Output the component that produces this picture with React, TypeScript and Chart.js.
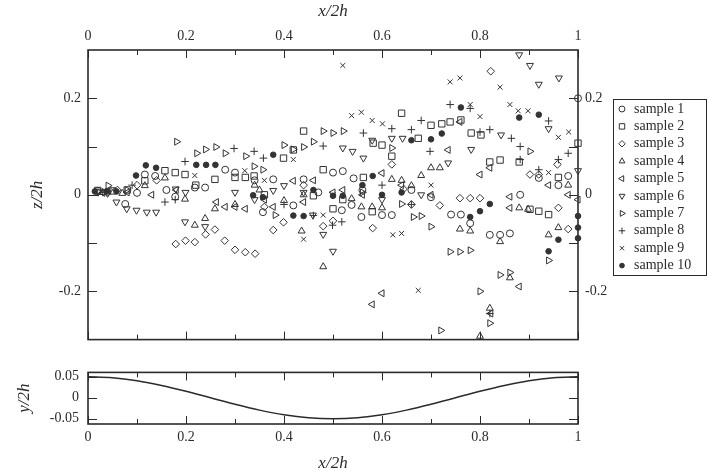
import React, { useEffect, useRef } from 'react';
import { Chart, registerables } from 'chart.js';
import * as helpers from 'chart.js/helpers';

Chart.register(...registerables);

// ---------- tick values ----------
const X_TICKS = [0, 0.2, 0.4, 0.6, 0.8, 1];
const X_MINOR_TICKS = [0.1, 0.3, 0.5, 0.7, 0.9];
const Z_TICKS = [-0.2, 0, 0.2];
const Z_MINOR_TICKS = [-0.1, 0.1];
const Y_TICKS = [-0.05, 0, 0.05];

// ---------- series ----------
const SAMPLE_NAMES = ['sample 1', 'sample 2', 'sample 3', 'sample 4', 'sample 5', 'sample 6', 'sample 7', 'sample 8', 'sample 9', 'sample 10'];

const SAMPLE_1 = [[0.02, 0.008], [0.04, 0.006], [0.076, -0.019], [0.1, 0.004], [0.116, 0.042], [0.137, 0.039], [0.16, 0.01], [0.178, -0.004], [0.218, 0.015], [0.239, 0.015], [0.28, 0.052], [0.3, 0.046], [0.34, 0.03], [0.357, -0.036], [0.378, 0.032], [0.419, -0.022], [0.44, 0.032], [0.47, 0.005], [0.5, 0.046], [0.52, 0.049], [0.542, 0.034], [0.518, -0.032], [0.538, -0.021], [0.558, -0.046], [0.56, 0.01], [0.6, -0.042], [0.62, -0.042], [0.66, 0.01], [0.7, -0.005], [0.741, -0.041], [0.761, -0.041], [0.78, -0.059], [0.82, -0.083], [0.841, -0.083], [0.861, -0.08], [0.882, 0.0], [0.92, 0.035], [0.96, 0.02], [0.98, 0.039], [1.0, 0.2]];
const SAMPLE_2 = [[0.02, 0.009], [0.05, 0.008], [0.08, 0.01], [0.116, 0.029], [0.157, 0.05], [0.178, 0.046], [0.198, 0.042], [0.22, 0.02], [0.259, 0.032], [0.3, 0.036], [0.321, 0.036], [0.339, 0.039], [0.36, 0.0], [0.399, 0.076], [0.419, 0.093], [0.44, 0.132], [0.46, -0.002], [0.48, 0.052], [0.5, -0.029], [0.52, -0.01], [0.562, 0.036], [0.58, -0.035], [0.582, 0.107], [0.6, 0.103], [0.62, 0.08], [0.64, 0.169], [0.674, 0.117], [0.7, 0.144], [0.722, 0.147], [0.739, 0.151], [0.761, 0.155], [0.782, 0.128], [0.802, 0.124], [0.82, 0.068], [0.841, 0.072], [0.88, 0.068], [0.902, -0.03], [0.92, -0.034], [0.94, -0.041], [0.96, 0.036], [1.0, 0.107]];
const SAMPLE_3 = [[0.02, 0.005], [0.06, 0.01], [0.1, 0.02], [0.14, 0.03], [0.179, -0.102], [0.199, -0.095], [0.218, -0.098], [0.24, -0.082], [0.259, -0.072], [0.279, -0.095], [0.3, -0.114], [0.321, -0.119], [0.341, -0.122], [0.36, -0.025], [0.378, -0.073], [0.399, -0.057], [0.44, 0.02], [0.48, -0.065], [0.5, -0.054], [0.581, -0.069], [0.62, 0.063], [0.644, 0.012], [0.66, -0.02], [0.718, -0.022], [0.759, -0.007], [0.78, -0.007], [0.8, -0.007], [0.822, 0.256], [0.902, 0.042], [0.92, 0.042], [0.958, 0.063], [0.96, -0.027], [0.98, -0.071]];
const SAMPLE_4 = [[0.03, 0.005], [0.07, 0.003], [0.116, 0.019], [0.157, 0.035], [0.198, -0.009], [0.218, -0.063], [0.239, -0.049], [0.259, -0.029], [0.3, -0.02], [0.34, 0.02], [0.35, 0.01], [0.4, -0.012], [0.436, -0.075], [0.44, 0.0], [0.48, -0.149], [0.538, -0.008], [0.558, -0.025], [0.58, -0.025], [0.6, -0.027], [0.62, 0.032], [0.64, 0.03], [0.66, 0.019], [0.68, 0.04], [0.7, 0.056], [0.718, 0.056], [0.759, -0.071], [0.78, -0.075], [0.8, -0.293], [0.82, -0.235], [0.841, -0.097], [0.861, -0.172], [0.88, -0.027], [0.898, -0.03], [0.94, -0.083], [0.96, -0.068], [0.98, 0.02]];
const SAMPLE_5 = [[0.03, 0.004], [0.08, 0.005], [0.13, 0.0], [0.18, 0.01], [0.262, -0.015], [0.28, -0.025], [0.3, -0.025], [0.321, -0.029], [0.36, -0.01], [0.378, -0.025], [0.419, 0.029], [0.44, -0.015], [0.46, 0.03], [0.5, 0.005], [0.52, 0.01], [0.56, 0.0], [0.58, -0.227], [0.6, -0.204], [0.6, 0.045], [0.64, 0.02], [0.7, 0.0], [0.735, 0.093], [0.759, 0.151], [0.8, 0.042], [0.82, 0.056], [0.822, -0.246], [0.861, -0.004], [0.861, -0.027], [0.88, -0.19], [0.94, 0.02], [0.98, 0.0], [1.0, -0.01]];
const SAMPLE_6 = [[0.02, 0.006], [0.04, 0.003], [0.058, -0.015], [0.079, -0.029], [0.099, -0.032], [0.12, -0.036], [0.139, -0.036], [0.179, 0.012], [0.199, 0.005], [0.198, -0.056], [0.239, -0.066], [0.3, 0.005], [0.34, -0.01], [0.378, 0.009], [0.4, 0.019], [0.44, 0.005], [0.459, -0.042], [0.48, -0.082], [0.5, -0.117], [0.52, 0.097], [0.54, 0.09], [0.562, 0.076], [0.58, 0.113], [0.6, -0.01], [0.62, 0.117], [0.642, 0.117], [0.68, 0.0], [0.735, 0.066], [0.782, 0.094], [0.843, 0.124], [0.88, 0.29], [0.902, 0.268], [0.92, 0.229], [0.94, 0.137], [0.961, 0.242], [1.0, 0.05]];
const SAMPLE_7 = [[0.041, 0.019], [0.08, 0.01], [0.181, 0.11], [0.222, 0.086], [0.24, 0.094], [0.261, 0.099], [0.28, 0.086], [0.322, 0.08], [0.339, 0.059], [0.357, 0.052], [0.382, -0.042], [0.4, 0.103], [0.419, 0.094], [0.44, 0.099], [0.46, 0.11], [0.48, 0.132], [0.5, 0.128], [0.521, 0.132], [0.56, 0.005], [0.62, 0.097], [0.64, -0.019], [0.664, -0.046], [0.68, -0.044], [0.7, -0.066], [0.72, -0.281], [0.739, -0.118], [0.759, -0.118], [0.78, -0.115], [0.8, -0.2], [0.82, -0.266], [0.841, -0.166], [0.861, -0.161], [0.902, 0.09], [0.94, -0.136]];
const SAMPLE_8 = [[0.03, 0.005], [0.09, 0.02], [0.157, -0.015], [0.178, -0.01], [0.198, 0.069], [0.298, 0.096], [0.339, 0.09], [0.358, 0.076], [0.4, -0.02], [0.46, -0.043], [0.48, 0.101], [0.499, -0.063], [0.518, -0.056], [0.562, 0.128], [0.6, 0.02], [0.62, 0.137], [0.66, 0.135], [0.66, -0.02], [0.68, 0.154], [0.698, 0.09], [0.739, 0.187], [0.78, 0.179], [0.8, 0.13], [0.82, 0.135], [0.82, -0.246], [0.864, 0.117], [0.882, 0.1], [0.882, 0.073], [0.92, 0.052], [0.94, 0.153], [0.96, 0.073], [0.98, 0.086]];
const SAMPLE_9 = [[0.05, 0.01], [0.218, 0.04], [0.32, 0.05], [0.36, 0.03], [0.419, 0.073], [0.44, -0.092], [0.48, -0.042], [0.5, 0.0], [0.52, 0.268], [0.538, 0.164], [0.558, 0.171], [0.58, 0.154], [0.601, 0.147], [0.622, -0.083], [0.64, -0.08], [0.674, -0.198], [0.7, 0.02], [0.739, 0.234], [0.759, 0.242], [0.78, 0.187], [0.8, 0.162], [0.841, 0.223], [0.861, 0.187], [0.878, 0.174], [0.898, 0.174], [0.94, 0.046], [0.96, 0.119], [0.981, 0.13]];
const SAMPLE_10 = [[0.014, 0.007], [0.038, 0.007], [0.058, 0.007], [0.098, 0.04], [0.118, 0.061], [0.139, 0.056], [0.221, 0.062], [0.241, 0.062], [0.26, 0.062], [0.337, -0.001], [0.357, -0.005], [0.378, 0.083], [0.419, -0.043], [0.44, -0.044], [0.46, 0.01], [0.5, -0.002], [0.52, -0.002], [0.56, 0.02], [0.581, 0.039], [0.6, 0.0], [0.64, 0.005], [0.66, 0.113], [0.7, 0.115], [0.722, 0.127], [0.761, 0.181], [0.78, -0.046], [0.8, -0.034], [0.82, -0.019], [0.88, 0.16], [0.92, 0.166], [0.94, -0.117], [0.96, -0.093], [1.0, -0.044], [1.0, -0.068], [1.0, -0.09]];

const SAMPLES = [SAMPLE_1, SAMPLE_2, SAMPLE_3, SAMPLE_4, SAMPLE_5, SAMPLE_6, SAMPLE_7, SAMPLE_8, SAMPLE_9, SAMPLE_10];

// wall shape y/2h vs x/2h
const WALL_X = [0, 0.05, 0.1, 0.15, 0.2, 0.25, 0.3, 0.35, 0.4, 0.45, 0.5, 0.55, 0.6, 0.65, 0.7, 0.75, 0.8, 0.85, 0.9, 0.95, 1];
const WALL_Y = [0.05, 0.0476, 0.0405, 0.0294, 0.0155, 0.0, -0.0155, -0.0294, -0.0405, -0.0476, -0.05, -0.0476, -0.0405, -0.0294, -0.0155, 0.0, 0.0155, 0.0294, 0.0405, 0.0476, 0.05];

// ---------- styles ----------
const INK = '#2b2b2b';
const MARK = '#333333';
const FONT = '"Liberation Serif", "Times New Roman", serif';
const MARKERS = [
  { style: 'circle', rot: 0, r: 3.5, fill: false },
  { style: 'rect', rot: 0, r: 4.5, fill: false },
  { style: 'rectRot', rot: 0, r: 3.8, fill: false },
  { style: 'triangle', rot: 0, r: 4, fill: false },
  { style: 'triangle', rot: -90, r: 4, fill: false },
  { style: 'triangle', rot: 180, r: 4, fill: false },
  { style: 'triangle', rot: 90, r: 4, fill: false },
  { style: 'cross', rot: 0, r: 3.8, fill: false },
  { style: 'crossRot', rot: 0, r: 3.5, fill: false },
  { style: 'circle', rot: 0, r: 2.8, fill: true },
];

const tickFont = { family: FONT, size: 14 };
const titleFont = { family: FONT, size: 17, style: 'italic' as const, lineHeight: 1 };

const frameTicks = {
  id: 'frameTicks',
  beforeDatasetsDraw(chart: any, _args: any, opts: any) {
    const { ctx, chartArea } = chart;
    const { left, right, top, bottom } = chartArea;
    const xs = chart.scales.x;
    const ys = chart.scales.y;
    ctx.save();
    ctx.strokeStyle = INK;
    ctx.lineWidth = 1;
    ctx.beginPath();
    const vx = (v: number, len: number) => {
      const p = Math.round(xs.getPixelForValue(v)) + 0.5;
      ctx.moveTo(p, top); ctx.lineTo(p, top + len);
      ctx.moveTo(p, bottom); ctx.lineTo(p, bottom - len);
    };
    const hy = (v: number, len: number) => {
      const p = Math.round(ys.getPixelForValue(v)) + 0.5;
      ctx.moveTo(left, p); ctx.lineTo(left + len, p);
      ctx.moveTo(right, p); ctx.lineTo(right - len, p);
    };
    opts.xMajor.forEach((v: number) => vx(v, 8));
    opts.xMinor.forEach((v: number) => vx(v, 5));
    opts.yMajor.forEach((v: number) => hy(v, 9));
    opts.yMinor.forEach((v: number) => hy(v, 9));
    ctx.stroke();
    ctx.lineWidth = 1.6;
    ctx.strokeRect(left, top, right - left, bottom - top);
    ctx.restore();
  },
};

const boxLegend = {
  id: 'boxLegend',
  afterDraw(chart: any, _args: any, opts: any) {
    if (!opts || !opts.show) return;
    const ctx = chart.ctx;
    ctx.save();
    ctx.strokeStyle = INK;
    ctx.lineWidth = 1;
    ctx.strokeRect(opts.left + 0.5, opts.top + 0.5, opts.width, opts.height);
    ctx.font = `14px ${FONT}`;
    ctx.textBaseline = 'middle';
    chart.data.datasets.forEach((ds: any, i: number) => {
      const y = opts.top + opts.firstRow + i * opts.rowGap;
      const m = MARKERS[i];
      ctx.strokeStyle = MARK;
      ctx.fillStyle = m.fill ? MARK : 'rgba(0,0,0,0)';
      ctx.lineWidth = 1;
      helpers.drawPoint(ctx, { pointStyle: m.style, rotation: m.rot, radius: m.r * 0.85, borderWidth: 1 }, opts.left + opts.markerX, y);
      ctx.fillStyle = INK;
      ctx.fillText(ds.label, opts.left + opts.textX, y);
    });
    ctx.restore();
  },
};

function MainChart() {
  const ref = useRef<HTMLCanvasElement>(null);
  useEffect(() => {
    const datasets = SAMPLES.map((s, i) => ({
      label: SAMPLE_NAMES[i],
      data: s.map(([x, y]) => ({ x, y })),
      pointStyle: MARKERS[i].style,
      pointRotation: MARKERS[i].rot,
      pointRadius: MARKERS[i].r,
      pointBorderWidth: 1,
      pointBorderColor: MARK,
      pointBackgroundColor: MARKERS[i].fill ? MARK : 'rgba(0,0,0,0)',
      showLine: false,
      clip: false,
      xAxisID: 'x',
      yAxisID: 'y',
    }));
    const chart = new Chart(ref.current as HTMLCanvasElement, {
      type: 'scatter',
      data: { datasets },
      options: {
        animation: false,
        responsive: false,
        devicePixelRatio: 1,
        layout: { padding: { left: 0, top: 0, right: 89, bottom: 10 } },
        plugins: {
          legend: { display: false },
          tooltip: { enabled: false },
          frameTicks: { xMajor: X_TICKS, xMinor: X_MINOR_TICKS, yMajor: Z_TICKS, yMinor: Z_MINOR_TICKS },
          boxLegend: { show: true, left: 613, top: 99, width: 93, height: 176, firstRow: 10, rowGap: 17.4, markerX: 9, textX: 21 },
        } as any,
        scales: {
          x: {
            type: 'linear', position: 'top', min: 0, max: 1,
            grid: { display: false, drawTicks: false },
            border: { display: false },
            afterBuildTicks: (s: any) => { s.ticks = X_TICKS.map((v) => ({ value: v })); },
            afterFit: (s: any) => { s.height = 50; },
            ticks: { font: tickFont, color: INK, padding: 5, maxRotation: 0, autoSkip: false, callback: (v: any) => String(Math.round(Number(v) * 100) / 100) },
            title: { display: true, text: 'x/2h', font: titleFont, color: INK, padding: { top: 3, bottom: 0 } },
          },
          y: {
            type: 'linear', position: 'left', min: -0.3, max: 0.3,
            grid: { display: false, drawTicks: false },
            border: { display: false },
            afterBuildTicks: (s: any) => { s.ticks = Z_TICKS.map((v) => ({ value: v })); },
            afterFit: (s: any) => { s.width = 88; },
            ticks: { font: tickFont, color: INK, padding: 7, autoSkip: false, callback: (v: any) => String(Math.round(Number(v) * 100) / 100) },
            title: { display: true, text: 'z/2h', font: titleFont, color: INK, padding: { top: 29, bottom: 0 } },
          },
          y2: {
            type: 'linear', position: 'right', min: -0.3, max: 0.3, display: true,
            grid: { display: false, drawTicks: false },
            border: { display: false },
            afterBuildTicks: (s: any) => { s.ticks = Z_TICKS.map((v) => ({ value: v })); },
            afterFit: (s: any) => { s.width = 40; },
            ticks: { font: tickFont, color: INK, padding: 7, autoSkip: false, callback: (v: any) => String(Math.round(Number(v) * 100) / 100) },
          },
        } as any,
      },
      plugins: [frameTicks, boxLegend],
    });
    return () => chart.destroy();
  }, []);
  return <canvas ref={ref} width={707} height={355} style={{ position: 'absolute', left: 0, top: 0, width: 707, height: 355 }} />;
}

function WallChart() {
  const ref = useRef<HTMLCanvasElement>(null);
  useEffect(() => {
    const chart = new Chart(ref.current as HTMLCanvasElement, {
      type: 'scatter',
      data: {
        datasets: [{
          label: 'wall',
          data: WALL_X.map((x, i) => ({ x, y: WALL_Y[i] })),
          showLine: true,
          borderColor: INK,
          borderWidth: 1.5,
          pointRadius: 0,
          tension: 0.4,
          cubicInterpolationMode: 'monotone',
          fill: false,
        }],
      },
      options: {
        animation: false,
        responsive: false,
        devicePixelRatio: 1,
        layout: { padding: { left: 0, top: 10, right: 129, bottom: 0 } },
        plugins: {
          legend: { display: false },
          tooltip: { enabled: false },
          frameTicks: { xMajor: X_TICKS, xMinor: X_MINOR_TICKS, yMajor: Y_TICKS, yMinor: [] },
          boxLegend: { show: false },
        } as any,
        scales: {
          x: {
            type: 'linear', position: 'bottom', min: 0, max: 1,
            grid: { display: false, drawTicks: false },
            border: { display: false },
            afterBuildTicks: (s: any) => { s.ticks = X_TICKS.map((v) => ({ value: v })); },
            afterFit: (s: any) => { s.height = 50; },
            ticks: { font: tickFont, color: INK, padding: 5, maxRotation: 0, autoSkip: false, callback: (v: any) => String(Math.round(Number(v) * 100) / 100) },
            title: { display: true, text: 'x/2h', font: titleFont, color: INK, padding: { top: 0, bottom: 2 } },
          },
          y: {
            type: 'linear', position: 'left', min: -0.0625, max: 0.0605,
            grid: { display: false, drawTicks: false },
            border: { display: false },
            afterBuildTicks: (s: any) => { s.ticks = Y_TICKS.map((v) => ({ value: v })); },
            afterFit: (s: any) => { s.width = 88; },
            ticks: { font: tickFont, color: INK, padding: 9, autoSkip: false, callback: (v: any) => String(Math.round(Number(v) * 1000) / 1000) },
            title: { display: true, text: 'y/2h', font: titleFont, color: INK, padding: { top: 16, bottom: 0 } },
          },
        } as any,
      },
      plugins: [frameTicks, boxLegend],
    });
    return () => chart.destroy();
  }, []);
  return <canvas ref={ref} width={707} height={119} style={{ position: 'absolute', left: 0, top: 355, width: 707, height: 119 }} />;
}

export default function App() {
  return (
    <div style={{ position: 'fixed', left: 0, top: 0, width: 707, height: 474, background: '#fff', overflow: 'hidden' }}>
      <MainChart />
      <WallChart />
    </div>
  );
}
